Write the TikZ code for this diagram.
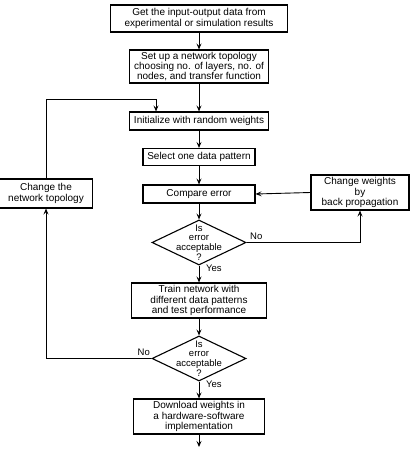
\documentclass[tikz,border=0pt]{standalone}
\usepackage{fontspec}
\setmainfont{Liberation Sans}
\usetikzlibrary{shapes.geometric,arrows.meta}
\begin{document}
\begin{tikzpicture}[x=1bp,y=-1bp,
  every node/.style={font=\fontsize{10bp}{10.2bp}\selectfont},
  boxnode/.style={draw,line width=1.1bp,inner sep=0pt,align=center},
  decnode/.style={draw,line width=1.1bp,diamond,inner sep=0pt,
    minimum width=94bp,minimum height=45bp},
  dectext/.style={inner sep=0pt,align=center,
    font=\fontsize{9.5bp}{9.6bp}\selectfont},
  conn/.style={line width=0.9bp},
  arr/.style={conn,-{Stealth[length=6bp,width=5bp,inset=2.5bp]}},
  lbl/.style={inner sep=0pt,font=\fontsize{9.5bp}{10bp}\selectfont}]
\useasboundingbox (0,0) rectangle (415,450);
\node[boxnode,minimum width=177bp,minimum height=27bp] (b1) at (199,18.5)
  {Get the input-output data from\\experimental or simulation results};
\node[boxnode,minimum width=139bp,minimum height=33bp] (b2) at (199,66.5)
  {Set up a network topology\\choosing no. of layers, no. of\\nodes, and transfer function};
\node[boxnode,minimum width=139bp,minimum height=18bp] (b3) at (199,121)
  {Initialize with random weights};
\node[boxnode,minimum width=112bp,minimum height=17bp] (b4) at (199,157)
  {Select one data pattern};
\node[boxnode,minimum width=112bp,minimum height=18bp] (b5) at (199,194)
  {Compare error};
\node[decnode] (d1) at (199,242.5) {};
\node[dectext] (t1) at (d1.center) {Is\\error\\acceptable\\?};
\node[boxnode,minimum width=135bp,minimum height=35bp] (b6) at (199,300.5)
  {Train network with\\different data patterns\\and test performance};
\node[decnode] (d2) at (199,358.5) {};
\node[dectext] (t2) at (d2.center) {Is\\error\\acceptable\\?};
\node[boxnode,minimum width=131bp,minimum height=35bp] (b7) at (199,416.5)
  {Download weights in\\a hardware-software\\implementation};
\node[boxnode,minimum width=98bp,minimum height=35bp] (bw) at (360,192.5)
  {Change weights\\by\\back propagation};
\node[boxnode,minimum width=93bp,minimum height=29bp] (bt) at (46,193.5)
  {Change the\\network topology};
\coordinate (end) at (199,447);
\coordinate (c1) at (360,242.5);
\coordinate (c2) at (46,358.5);
\coordinate (c3) at (46,99);
\coordinate (c4) at (156,99);
\draw[arr] (b1) -- (b2);
\draw[arr] (b2) -- (b3);
\draw[arr] (b3) -- (b4);
\draw[arr] (b4) -- (b5);
\draw[arr] (b5) -- (d1);
\draw[arr] (d1) -- (b6);
\draw[arr] (b6) -- (d2);
\draw[arr] (d2) -- (b7);
\draw[arr] (b7) -- (end);
\draw[arr] (d1.east) -- (c1) -- (bw.south);
\draw[arr] (bw.west) -- (b5.east);
\draw[arr] (d2.west) -- (c2) -- (bt.south);
\draw[arr] (bt.north) -- (c3) -- (c4) -- (c4 |- b3.north);
\node[lbl,anchor=south west] (n1) at (250,240) {No};
\node[lbl,anchor=north west] (y1) at (206,265) {Yes};
\node[lbl,anchor=south east] (n2) at (150,356) {No};
\node[lbl,anchor=north west] (y2) at (206,381) {Yes};
\end{tikzpicture}
\end{document}
